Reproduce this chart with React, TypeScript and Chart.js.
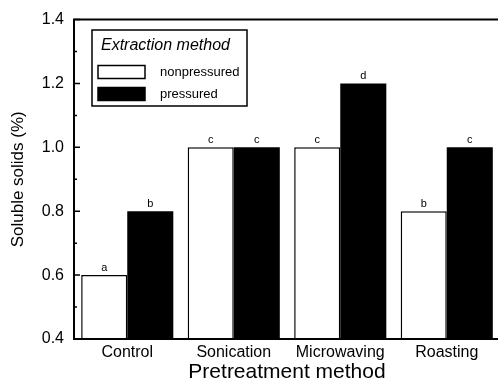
import React, { useEffect, useRef } from "react";
import { Chart, registerables } from "chart.js";

Chart.register(...registerables);

const categories = ["Control", "Sonication", "Microwaving", "Roasting"];
const nonpressured = [0.6, 1.0, 1.0, 0.8];
const pressured = [0.8, 1.0, 1.2, 1.0];
const lettersNon = ["a", "c", "c", "b"];
const lettersPres = ["b", "c", "d", "c"];
const seriesLabels = ["nonpressured", "pressured"];
const legendTitle = "Extraction method";
const yTitle = "Soluble solids (%)";
const xTitle = "Pretreatment method";
const yMin = 0.4;
const yMax = 1.4;
const yStep = 0.2;

const FONT = "'Liberation Sans', Arial, Helvetica, sans-serif";

const decorPlugin = {
  id: "decor",
  afterDraw(chart: any) {
    const ctx = chart.ctx;
    const { left, right, top, bottom } = chart.chartArea;
    const y = chart.scales.y;
    ctx.save();
    ctx.strokeStyle = "#000";
    ctx.lineWidth = 2;
    ctx.beginPath();
    ctx.moveTo(left - 1, top);
    ctx.lineTo(right + 20, top);
    ctx.moveTo(left - 1, bottom);
    ctx.lineTo(right + 20, bottom);
    ctx.moveTo(left, top - 1);
    ctx.lineTo(left, bottom + 1);
    ctx.stroke();
    ctx.lineWidth = 1.5;
    ctx.beginPath();
    for (let v = yMin; v <= yMax + 1e-9; v += yStep) {
      const py = y.getPixelForValue(v);
      ctx.moveTo(left, py);
      ctx.lineTo(left + 6, py);
      if (v + yStep / 2 < yMax) {
        const pm = y.getPixelForValue(v + yStep / 2);
        ctx.moveTo(left, pm);
        ctx.lineTo(left + 3, pm);
      }
    }
    ctx.stroke();

    ctx.fillStyle = "#000";
    ctx.font = `11px ${FONT}`;
    ctx.textAlign = "center";
    ctx.textBaseline = "bottom";
    const letterSets = [lettersNon, lettersPres];
    chart.data.datasets.forEach((ds: any, di: number) => {
      const meta = chart.getDatasetMeta(di);
      meta.data.forEach((bar: any, i: number) => {
        ctx.fillText(letterSets[di][i], bar.x, bar.y - 2);
      });
    });

    const bx = 92, by = 30, bw = 155, bh = 76;
    ctx.fillStyle = "#fff";
    ctx.fillRect(bx, by, bw, bh);
    ctx.lineWidth = 1.5;
    ctx.strokeRect(bx, by, bw, bh);
    ctx.fillStyle = "#000";
    ctx.textAlign = "left";
    ctx.textBaseline = "middle";
    ctx.font = `italic 16px ${FONT}`;
    ctx.fillText(legendTitle, bx + 9, by + 16);
    ctx.font = `13px ${FONT}`;
    const rows = [by + 42, by + 64];
    seriesLabels.forEach((lab, i) => {
      const ds = chart.data.datasets[i];
      const ry = rows[i];
      ctx.fillStyle = ds.backgroundColor;
      ctx.fillRect(bx + 6, ry - 6.5, 47, 13);
      ctx.lineWidth = 1.5;
      ctx.strokeStyle = "#000";
      ctx.strokeRect(bx + 6, ry - 6.5, 47, 13);
      ctx.fillStyle = "#000";
      ctx.fillText(lab, bx + 68, ry);
    });
    ctx.restore();
  },
};

export default function App() {
  const ref = useRef<HTMLCanvasElement | null>(null);
  useEffect(() => {
    if (!ref.current) return;
    const chart = new Chart(ref.current, {
      type: "bar",
      data: {
        labels: categories,
        datasets: [
          {
            label: seriesLabels[0],
            data: nonpressured,
            backgroundColor: "#ffffff",
            borderColor: "#000000",
            borderWidth: 1.5,
            categoryPercentage: 0.865,
            barPercentage: 1,
          },
          {
            label: seriesLabels[1],
            data: pressured,
            backgroundColor: "#000000",
            borderColor: "#000000",
            borderWidth: 0,
            categoryPercentage: 0.865,
            barPercentage: 1,
          },
        ],
      },
      options: {
        responsive: false,
        animation: false,
        devicePixelRatio: 1,
        layout: { padding: { top: 16, right: 5, left: 0, bottom: 0 } },
        plugins: {
          legend: { display: false },
          tooltip: { enabled: false },
        },
        scales: {
          x: {
            grid: { display: false, drawTicks: false },
            border: { display: false },
            ticks: {
              color: "#000",
              font: { family: FONT, size: 16 },
              padding: 4,
              maxRotation: 0,
            },
            title: {
              display: true,
              text: xTitle,
              color: "#000",
              font: { family: FONT, size: 21 },
              padding: { top: 0, bottom: 0 },
            },
            afterFit(scale: any) {
              scale.height = 46;
            },
          },
          y: {
            min: yMin,
            max: yMax,
            grid: { display: false, drawTicks: false },
            border: { display: false },
            ticks: {
              stepSize: yStep,
              color: "#000",
              font: { family: FONT, size: 16 },
              padding: 10,
              callback: (v: any) => Number(v).toFixed(1),
            },
            title: {
              display: true,
              text: yTitle,
              color: "#000",
              font: { family: FONT, size: 17 },
              padding: { top: 8, bottom: 0 },
            },
            afterFit(scale: any) {
              scale.width = 74;
            },
          },
        },
      },
      plugins: [decorPlugin],
    });
    return () => chart.destroy();
  }, []);

  return (
    <div
      style={{
        position: "absolute",
        left: 0,
        top: 0,
        width: 498,
        height: 385,
        overflow: "hidden",
        background: "#fff",
      }}
    >
      <canvas ref={ref} width={505} height={385} style={{ display: "block" }} />
    </div>
  );
}
